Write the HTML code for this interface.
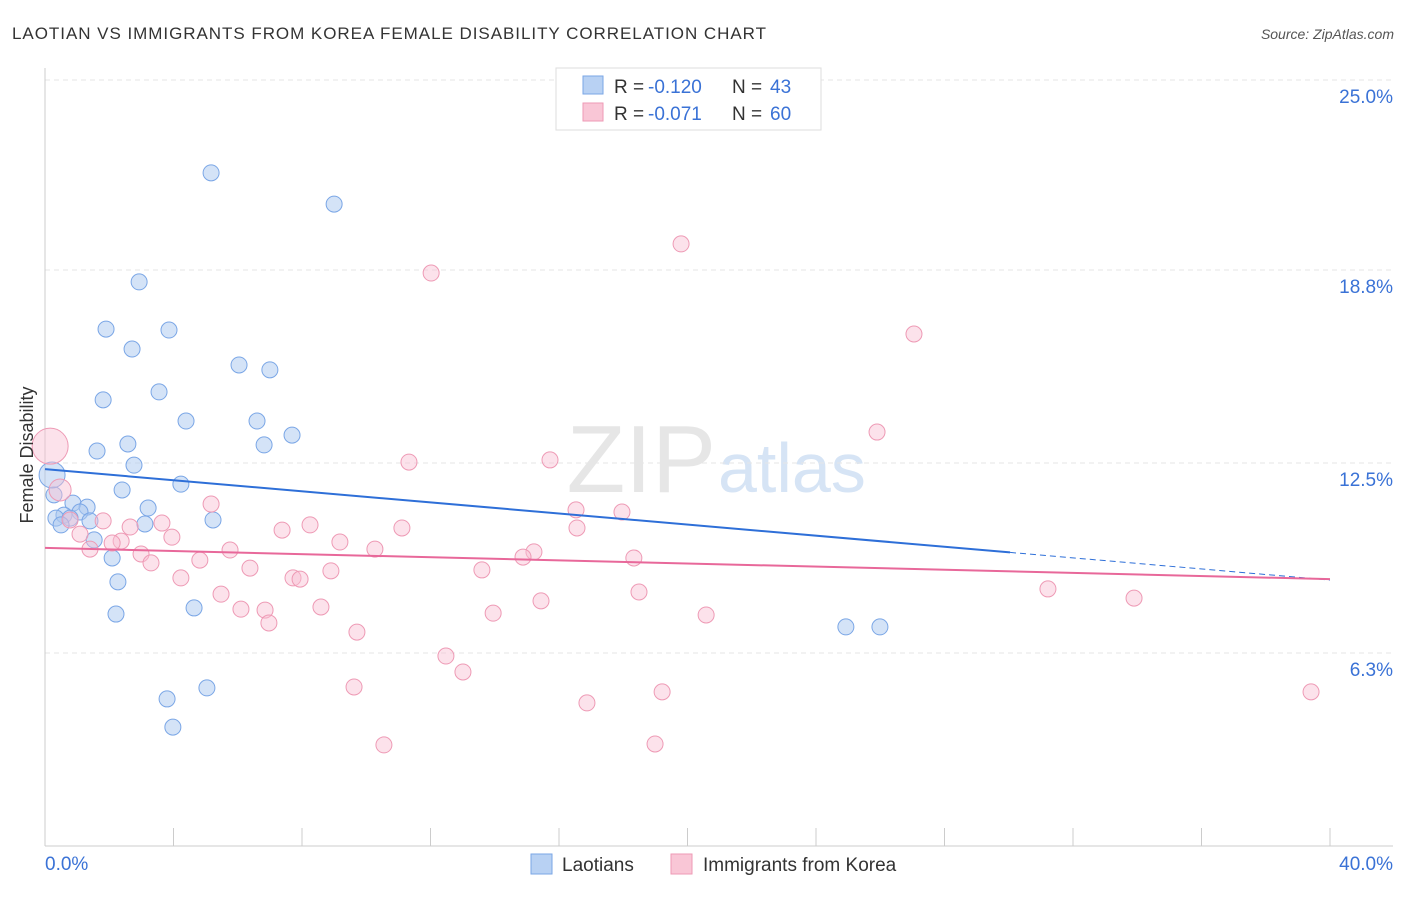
<!DOCTYPE html>
<html><head><meta charset="utf-8"><style>
body{margin:0;background:#fff;font-family:"Liberation Sans",sans-serif;}
svg text{font-family:"Liberation Sans",sans-serif;}
</style></head><body>
<svg id="chart" width="1406" height="892" xmlns="http://www.w3.org/2000/svg">
<text x="12" y="39" font-size="17" fill="#333" textLength="754" lengthAdjust="spacing">LAOTIAN VS IMMIGRANTS FROM KOREA FEMALE DISABILITY CORRELATION CHART</text>
<text x="1394" y="39" font-size="14" fill="#555" font-style="italic" text-anchor="end">Source: ZipAtlas.com</text>
<text x="716" y="492" font-size="96" fill="#e6e6e6" font-family="Liberation Serif" text-anchor="end">ZIP</text>
<text x="718" y="492" font-size="70" fill="#d6e4f5">atlas</text>
<g id="grid"></g>
<g id="axes"></g>
<g id="pts"></g>
<g id="lines"></g>
<text x="33" y="455" font-size="18" fill="#333" text-anchor="middle" transform="rotate(-90 33 455)">Female Disability</text>
<g>
<rect x="556" y="68" width="265" height="62" fill="#fff" stroke="#ddd"/>
<rect x="583" y="76" width="20" height="18" fill="#b8d1f3" stroke="#7aa6e6"/>
<rect x="583" y="103" width="20" height="18" fill="#f9c6d6" stroke="#ee9ab5"/>
<text x="614" y="93" font-size="19" fill="#333">R = </text>
<text x="648" y="93" font-size="19" fill="#3a72d6">-0.120</text>
<text x="732" y="93" font-size="19" fill="#333">N = </text>
<text x="770" y="93" font-size="19" fill="#3a72d6">43</text>
<text x="614" y="120" font-size="19" fill="#333">R = </text>
<text x="648" y="120" font-size="19" fill="#3a72d6">-0.071</text>
<text x="732" y="120" font-size="19" fill="#333">N = </text>
<text x="770" y="120" font-size="19" fill="#3a72d6">60</text>
</g>
<g>
<rect x="531" y="854" width="21" height="20" fill="#b8d1f3" stroke="#7aa6e6"/>
<text x="562" y="871" font-size="19" fill="#333">Laotians</text>
<rect x="671" y="854" width="21" height="20" fill="#f9c6d6" stroke="#ee9ab5"/>
<text x="703" y="871" font-size="19" fill="#333">Immigrants from Korea</text>
</g>
</svg>
<script>
const yTicks=[25.0,18.8,12.5,6.3];
const yTickLabels=["25.0%","18.8%","12.5%","6.3%"];
const xTicks=[0,4,8,12,16,20,24,28,32,36,40];
const xEndLabels=["0.0%","40.0%"];
const blueX=[5.17,9.0,2.93,1.90,3.86,2.71,6.04,7.0,3.55,1.81,4.39,6.6,2.58,7.69,1.62,6.82,2.77,4.23,2.40,0.28,0.87,1.31,3.21,1.09,0.59,0.34,0.78,1.40,5.23,0.50,3.11,1.53,2.09,2.27,4.64,2.21,24.93,25.99,5.04,3.80,3.98,0.22];
const blueY=[21.97,20.95,18.41,16.87,16.84,16.22,15.70,15.54,14.82,14.56,13.87,13.87,13.12,13.41,12.89,13.09,12.43,11.81,11.62,11.46,11.19,11.06,11.03,10.90,10.80,10.70,10.70,10.61,10.64,10.48,10.51,9.99,9.40,8.62,7.77,7.57,7.15,7.15,5.16,4.80,3.88,12.11];
const pinkX=[19.80,12.02,27.05,25.90,11.33,15.72,5.17,16.53,17.96,1.81,3.64,2.65,7.38,8.25,11.11,16.56,1.09,3.95,2.37,2.09,1.40,9.18,5.76,10.27,15.22,2.99,4.82,14.88,18.33,3.30,6.38,8.90,13.60,4.23,7.72,7.94,5.48,18.49,31.22,33.90,15.44,6.10,6.85,8.59,13.95,20.58,6.97,9.71,12.48,13.01,9.62,19.21,16.87,39.41,10.55,18.99,0.47,0.78,0.16];
const pinkY=[19.65,18.70,16.71,13.51,12.53,12.60,11.16,10.97,10.90,10.61,10.54,10.41,10.31,10.48,10.38,10.38,10.18,10.08,9.95,9.89,9.69,9.92,9.66,9.69,9.60,9.53,9.33,9.43,9.40,9.24,9.07,8.98,9.01,8.75,8.75,8.71,8.22,8.29,8.39,8.09,8.00,7.73,7.70,7.80,7.60,7.54,7.28,6.98,6.20,5.68,5.19,5.03,4.67,5.03,3.30,3.33,11.62,10.64,13.05];
const blueLine=[12.30,-0.0905];
const pinkLine=[9.73,-0.0255];
const X=v=>45+v*32.125, Y=v=>846-v*30.64;
const NS="http://www.w3.org/2000/svg";
function mk(p,t,a){const e=document.createElementNS(NS,t);for(const k in a)e.setAttribute(k,a[k]);document.getElementById(p).appendChild(e);return e;}
yTicks.forEach((t,i)=>{
 const g=mk('grid','line',{x1:45,x2:1393,y1:Y(t),y2:Y(t),stroke:'#e6e6e6','stroke-dasharray':'5,4'});
 
 
 const l=mk('grid','text',{x:1393,y:Y(t)+23,'font-size':19,fill:'#3a72d6','text-anchor':'end'});
 l.textContent=yTickLabels[i];
 
 
});
const ax=mk('axes','line',{x1:45,x2:45,y1:68,y2:846,stroke:'#ccc'});


const bx=mk('axes','line',{x1:45,x2:1393,y1:846,y2:846,stroke:'#ccc'});


xTicks.forEach(t=>{
 const k=mk('axes','line',{x1:X(t),x2:X(t),y1:828,y2:846,stroke:'#ccc'});
 
 
});
[[0,'start',45],[40,'end',1393]].forEach((d,i)=>{
 const l=mk('axes','text',{x:d[2],y:870,'font-size':19,fill:'#3a72d6','text-anchor':d[1]});
 l.textContent=xEndLabels[i];
 
 
});
blueX.forEach((x,i)=>{
 const r=i===blueX.length-1?13:8;
 const c=mk('pts','circle',{cx:X(x),cy:Y(blueY[i]),r:r,fill:'rgba(170,200,240,0.5)',stroke:'#7aa6e6','stroke-width':1});
 
 
});
pinkX.forEach((x,i)=>{
 const r=i===pinkX.length-1?18:(i===pinkX.length-3?11:8);
 const c=mk('pts','circle',{cx:X(x),cy:Y(pinkY[i]),r:r,fill:'rgba(248,190,210,0.45)',stroke:'#ee9ab5','stroke-width':1});
 
 
});
const bl=mk('lines','line',{x1:X(0),y1:Y(blueLine[0]),x2:X(30.04),y2:Y(blueLine[0]+blueLine[1]*30.04),stroke:'#2e6fd8','stroke-width':2});


const bd=mk('lines','line',{x1:X(30.04),y1:Y(blueLine[0]+blueLine[1]*30.04),x2:X(40),y2:Y(blueLine[0]+blueLine[1]*40),stroke:'#2e6fd8','stroke-width':1,'stroke-dasharray':'6,4'});


const pl=mk('lines','line',{x1:X(0),y1:Y(pinkLine[0]),x2:X(40),y2:Y(pinkLine[0]+pinkLine[1]*40),stroke:'#e8689a','stroke-width':2});


</script>
</body></html>
